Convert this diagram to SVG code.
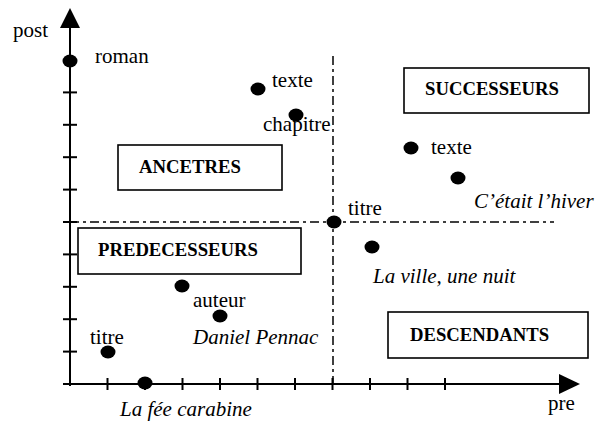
<svg xmlns="http://www.w3.org/2000/svg" width="597" height="421" viewBox="0 0 597 421">
<style>
.ax{stroke:#000;stroke-width:2;fill:none}
.tk{stroke:#000;stroke-width:2}
.dd{stroke:#000;stroke-width:1.5;stroke-dasharray:9,4,3,4;fill:none}
.box{fill:#fff;stroke:#000;stroke-width:1.6}
.t{font-family:"Liberation Serif","Times New Roman",serif;font-size:21px;fill:#000}
.i{font-style:italic}
.b{font-family:"Liberation Serif","Times New Roman",serif;font-size:18.7px;font-weight:bold;fill:#000}
.dot{fill:#000}
</style>
<rect width="597" height="421" fill="#fff"/>
<g id="connectors">
<line class="dd" x1="333" y1="56" x2="333" y2="384"/>
<line class="dd" x1="70" y1="222" x2="554" y2="222"/>
<line class="ax" x1="70" y1="386" x2="70" y2="26"/>
<polygon points="70,8 60,28 80,28" fill="#000"/>
<line class="ax" x1="63" y1="384" x2="562" y2="384"/>
<polygon points="580,384 559,374 559,394" fill="#000"/>
<g class="tk">
<line x1="63" y1="351.6" x2="77" y2="351.6"/>
<line x1="63" y1="319.2" x2="77" y2="319.2"/>
<line x1="63" y1="286.8" x2="77" y2="286.8"/>
<line x1="63" y1="254.4" x2="77" y2="254.4"/>
<line x1="63" y1="222" x2="77" y2="222"/>
<line x1="63" y1="189.6" x2="77" y2="189.6"/>
<line x1="63" y1="157.2" x2="77" y2="157.2"/>
<line x1="63" y1="124.8" x2="77" y2="124.8"/>
<line x1="63" y1="92.4" x2="77" y2="92.4"/>
<line x1="107.5" y1="378" x2="107.5" y2="390"/>
<line x1="145" y1="378" x2="145" y2="390"/>
<line x1="182.5" y1="378" x2="182.5" y2="390"/>
<line x1="220" y1="378" x2="220" y2="390"/>
<line x1="257.5" y1="378" x2="257.5" y2="390"/>
<line x1="295" y1="378" x2="295" y2="390"/>
<line x1="332.5" y1="378" x2="332.5" y2="390"/>
<line x1="370" y1="378" x2="370" y2="390"/>
<line x1="407.5" y1="378" x2="407.5" y2="390"/>
<line x1="445" y1="378" x2="445" y2="390"/>
</g>
</g>
<text class="t" x="13" y="37">post</text>
<text class="t" x="548" y="410">pre</text>
<g id="ancetres"><rect class="box" x="118" y="145" width="164" height="45"/><text class="b" x="139" y="173">ANCETRES</text></g>
<g id="predecesseurs"><rect class="box" x="78" y="228" width="223" height="46"/><text class="b" x="98" y="256">PREDECESSEURS</text></g>
<g id="successeurs"><rect class="box" x="404" y="68" width="185" height="45"/><text class="b" x="425" y="95">SUCCESSEURS</text></g>
<g id="descendants"><rect class="box" x="388" y="312" width="200" height="46"/><text class="b" x="410" y="341">DESCENDANTS</text></g>
<g id="roman"><ellipse class="dot" cx="70" cy="61" rx="7.5" ry="6.5"/><text class="t" x="95" y="63">roman</text></g>
<g id="texte1"><ellipse class="dot" cx="258" cy="89" rx="7.5" ry="6.5"/><text class="t" x="272" y="87">texte</text></g>
<g id="chapitre"><ellipse class="dot" cx="296" cy="115" rx="7.5" ry="6.5"/><text class="t" x="263" y="131">chapitre</text></g>
<g id="titre-centre"><ellipse class="dot" cx="334" cy="222" rx="7.5" ry="6.5"/><text class="t" x="348" y="215">titre</text></g>
<g id="texte2"><ellipse class="dot" cx="411" cy="148" rx="7.5" ry="6.5"/><text class="t" x="431" y="154">texte</text></g>
<g id="hiver"><ellipse class="dot" cx="458" cy="178" rx="7.5" ry="6.5"/><text class="t i" x="474" y="208">C’était l’hiver</text></g>
<g id="ville"><ellipse class="dot" cx="372" cy="247" rx="7.5" ry="6.5"/><text class="t i" x="373" y="283">La ville, une nuit</text></g>
<g id="auteur"><ellipse class="dot" cx="182" cy="286" rx="7.5" ry="6.5"/><text class="t" x="193" y="307">auteur</text></g>
<g id="pennac"><ellipse class="dot" cx="220" cy="316" rx="7.5" ry="6.5"/><text class="t i" x="193" y="344">Daniel Pennac</text></g>
<g id="titre-bas"><ellipse class="dot" cx="108" cy="352" rx="7.5" ry="6.5"/><text class="t" x="90" y="344">titre</text></g>
<g id="fee"><ellipse class="dot" cx="145" cy="383" rx="7.5" ry="6.5"/><text class="t i" x="120" y="416">La fée carabine</text></g>
</svg>
